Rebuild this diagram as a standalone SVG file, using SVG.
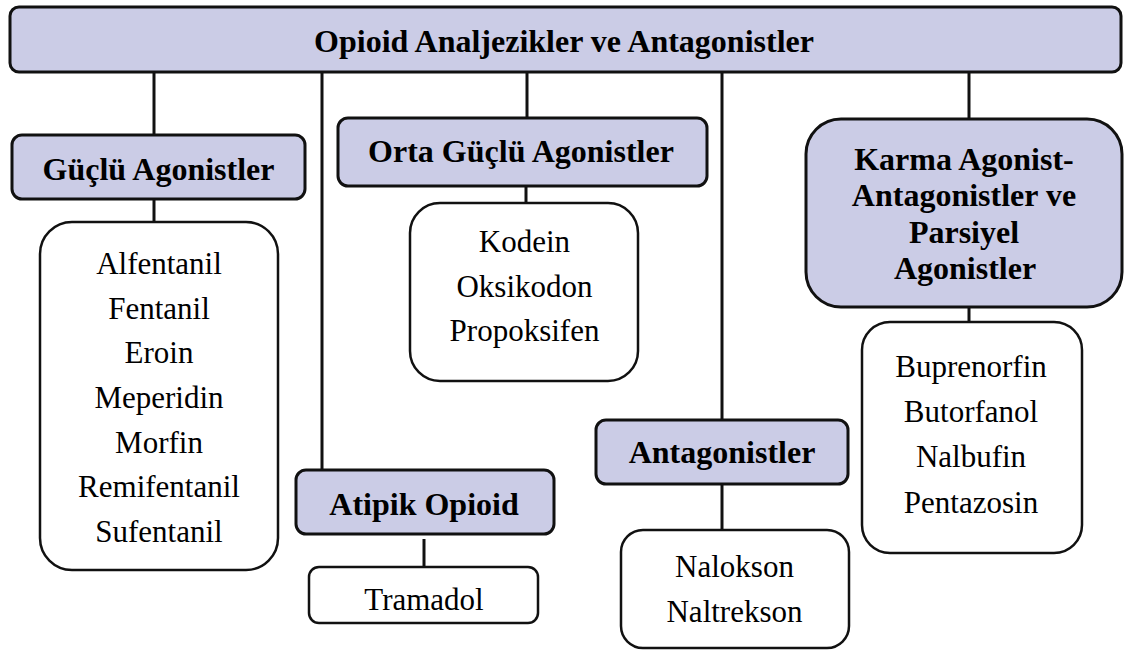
<svg xmlns="http://www.w3.org/2000/svg" width="1125" height="650" viewBox="0 0 1125 650">
<style>
.hdr{fill:#cbcce6;stroke:#111;stroke-width:3}
.lst{fill:#fff;stroke:#111;stroke-width:2.5}
text{font-family:'Liberation Serif','Tinos','Times New Roman','DejaVu Serif',serif;fill:#000;text-anchor:middle}
.b{font-weight:bold;font-size:32px}
.r{font-size:31px}
.c{stroke:#111;stroke-width:3;fill:none}
</style>
<rect width="1125" height="650" fill="#fff"/>
<g id="connectors">
<line class="c" x1="154" y1="72" x2="154" y2="135"/>
<line class="c" x1="322" y1="72" x2="322" y2="470"/>
<line class="c" x1="527" y1="72" x2="527" y2="118"/>
<line class="c" x1="722" y1="72" x2="722" y2="420"/>
<line class="c" x1="969" y1="72" x2="969" y2="119"/>
<line class="c" x1="154" y1="188" x2="154" y2="222"/>
<line class="c" x1="526" y1="170" x2="526" y2="203"/>
<line class="c" x1="424" y1="539" x2="424" y2="567"/>
<line class="c" x1="722" y1="484" x2="722" y2="530"/>
<line class="c" x1="969" y1="289" x2="969" y2="322"/>
</g>
<g id="root">
<rect class="hdr" x="10" y="7" width="1111" height="65" rx="9"/>
<text class="b" x="564" y="52">Opioid Analjezikler ve Antagonistler</text>
</g>
<g id="guclu">
<rect class="hdr" x="12" y="135" width="293" height="64" rx="10"/>
<text class="b" x="158.5" y="180">Güçlü Agonistler</text>
</g>
<g id="orta">
<rect class="hdr" x="338" y="118" width="369" height="68" rx="10"/>
<text class="b" x="521" y="162">Orta Güçlü Agonistler</text>
</g>
<g id="atipik">
<rect class="hdr" x="296" y="470" width="258" height="64" rx="10"/>
<text class="b" x="424" y="515">Atipik Opioid</text>
</g>
<g id="antagonistler">
<rect class="hdr" x="596" y="420" width="252" height="64" rx="10"/>
<text class="b" x="722" y="463">Antagonistler</text>
</g>
<g id="karma">
<rect class="hdr" x="806" y="119" width="316" height="188" rx="35"/>
<text class="b" x="964" y="170">Karma Agonist-</text>
<text class="b" x="964" y="206">Antagonistler ve</text>
<text class="b" x="964" y="243">Parsiyel</text>
<text class="b" x="965" y="279">Agonistler</text>
</g>
<g id="guclu-list">
<rect class="lst" x="40" y="222" width="238" height="348" rx="32"/>
<text class="r" x="159" y="274">Alfentanil</text>
<text class="r" x="159" y="318.7">Fentanil</text>
<text class="r" x="159" y="363.3">Eroin</text>
<text class="r" x="159" y="408">Meperidin</text>
<text class="r" x="159" y="452.7">Morfin</text>
<text class="r" x="159" y="497.3">Remifentanil</text>
<text class="r" x="159" y="542">Sufentanil</text>
</g>
<g id="orta-list">
<rect class="lst" x="410" y="203" width="228" height="178" rx="30"/>
<text class="r" x="524.5" y="252">Kodein</text>
<text class="r" x="524.5" y="296.5">Oksikodon</text>
<text class="r" x="524.5" y="341">Propoksifen</text>
</g>
<g id="atipik-list">
<rect class="lst" x="309" y="567" width="229" height="56" rx="10"/>
<text class="r" x="424" y="610">Tramadol</text>
</g>
<g id="antagonist-list">
<rect class="lst" x="621" y="530" width="228" height="118" rx="22"/>
<text class="r" x="734.5" y="577">Nalokson</text>
<text class="r" x="734.5" y="622">Naltrekson</text>
</g>
<g id="karma-list">
<rect class="lst" x="862" y="322" width="220" height="231" rx="28"/>
<text class="r" x="971" y="377">Buprenorfin</text>
<text class="r" x="971" y="422">Butorfanol</text>
<text class="r" x="971" y="467">Nalbufin</text>
<text class="r" x="971" y="513">Pentazosin</text>
</g>
</svg>
